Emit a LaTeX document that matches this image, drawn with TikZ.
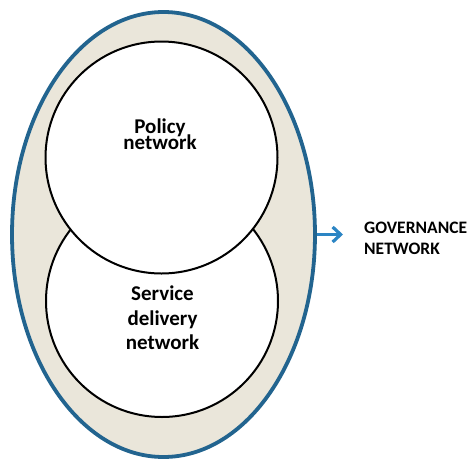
\documentclass[tikz,border=0pt]{standalone}
\usepackage{fontspec}
\setmainfont{Carlito}
\usetikzlibrary{arrows.meta,shapes.geometric}
\definecolor{govfill}{HTML}{EAE6DA}
\definecolor{govedge}{HTML}{22648F}
\definecolor{arrowblue}{HTML}{2C85C4}
% allow tightly packed label lines
\setlength{\lineskiplimit}{-30pt}
\begin{document}
\begin{tikzpicture}[x=1pt,y=-1pt,
  outerring/.style={ellipse, draw=govedge, fill=govfill, line width=3.8pt,
    minimum width=303pt, minimum height=445pt, inner sep=0pt},
  netcircle/.style={circle, draw=black, line width=2pt, fill=white,
    minimum size=232pt, inner sep=0pt},
  tightlabel/.style={font=\bfseries\fontsize{21}{16.5}\selectfont,
    align=center, inner sep=0pt},
  looselabel/.style={font=\bfseries\fontsize{21}{24.5}\selectfont,
    align=center, inner sep=0pt},
  outlabel/.style={font=\bfseries\fontsize{17.5}{21}\selectfont,
    align=left, inner sep=0pt, anchor=west},
  govarrow/.style={draw=arrowblue, line width=3.2pt,
    -{Straight Barb[length=8pt,width=15pt]}}]
  \useasboundingbox (0,0) rectangle (467,459);

  % governance network: the shaded ring around both sub-networks
  \node[outerring] (gov) at (163.5,234.5) {};

  % the two overlapping sub-networks, policy drawn on top
  \node[netcircle] (service) at (162,301) {};
  \node[netcircle] (policy) at (161.5,157.5) {};

  \node[tightlabel] (policytext) at (160,134) {Policy\\network};
  \node[looselabel] (servicetext) at (162.5,318) {Service\\delivery\\network};

  % pointer to the outer label
  \coordinate (govtip) at (343,234.5);
  \draw[govarrow] (gov.east) -- (govtip);
  \node[outlabel] (govtext) at (364,238) {GOVERNANCE\\NETWORK};
\end{tikzpicture}
\end{document}
